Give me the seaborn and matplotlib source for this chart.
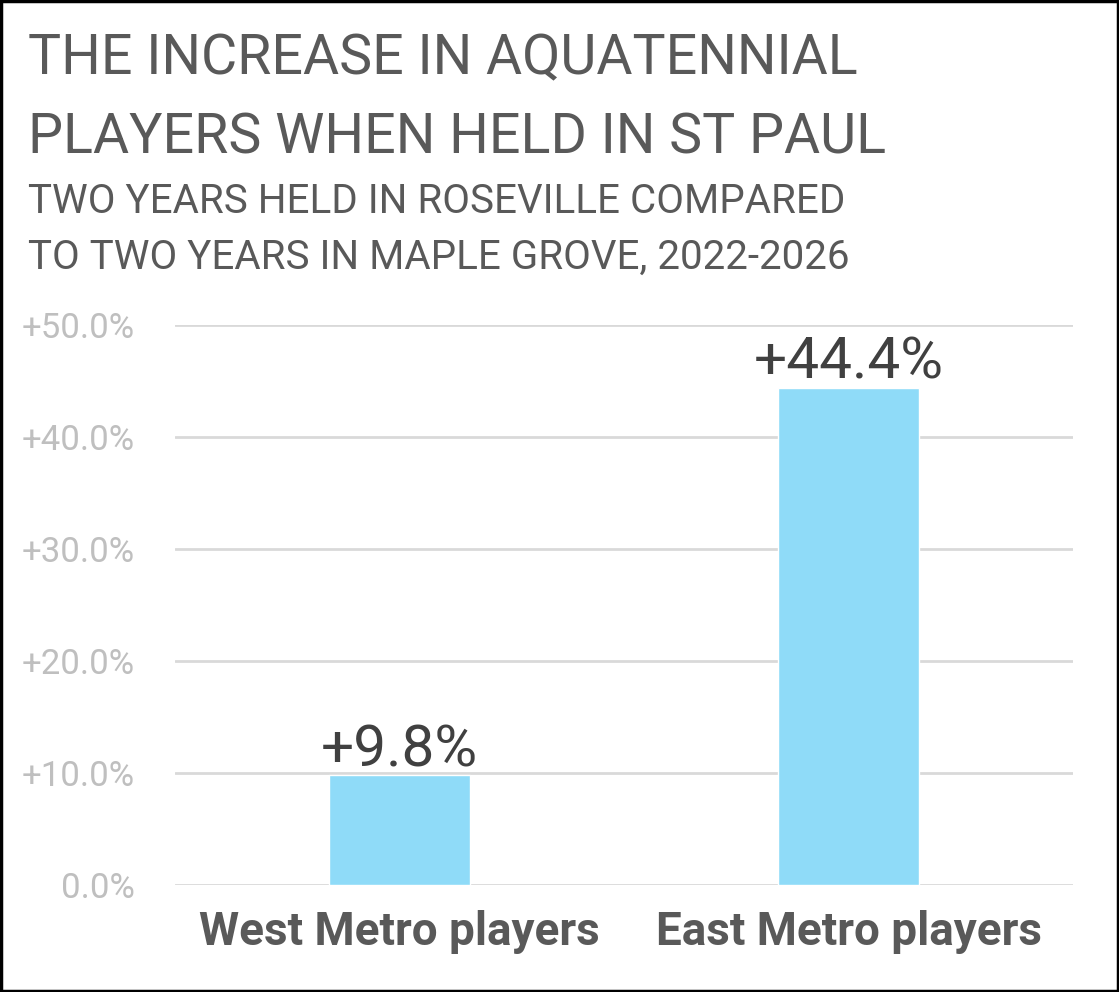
import matplotlib
matplotlib.use("Agg")
import matplotlib.pyplot as plt
import seaborn as sns
import pandas as pd
from matplotlib.ticker import FuncFormatter

categories = ["West Metro players", "East Metro players"]
values = [9.8, 44.4]
yticks = [0, 10, 20, 30, 40, 50]

title_lines = ["THE INCREASE IN AQUATENNIAL", "PLAYERS WHEN HELD IN ST PAUL"]
subtitle_lines = ["TWO YEARS HELD IN ROSEVILLE COMPARED", "TO TWO YEARS IN MAPLE GROVE, 2022-2026"]

df = pd.DataFrame({"cat": categories, "val": values})

sns.set_theme(style="white")
plt.rcParams['font.family'] = ['Roboto', 'DejaVu Sans']

W, H = 1119, 992
fig = plt.figure(figsize=(W / 100, H / 100), dpi=100)
ax = fig.add_axes([175 / W, 1 - 885 / H, 898 / W, 560 / H])

sns.barplot(data=df, x="cat", y="val", color="#8FDBF8", width=0.312, ax=ax,
            saturation=1, zorder=3)
ax.set_ylim(0, 50)
ax.set_xlim(-0.5, 1.5)
ax.set_yticks(yticks)
ax.yaxis.set_major_formatter(FuncFormatter(lambda v, p: "0.0%" if v == 0 else f"+{v:.1f}%"))
ax.grid(axis="y", color="#D9D9D9", linewidth=2, zorder=0)
ax.grid(axis="x", visible=False)
for s in ax.spines.values():
    s.set_visible(False)
ax.set_xlabel("")
ax.set_ylabel("")
ax.tick_params(axis="y", length=0, pad=29, labelsize=25, labelcolor="#BFBFBF")
ax.tick_params(axis="x", length=0, pad=18, labelsize=33, labelcolor="#595959")
for t in ax.get_xticklabels():
    t.set_fontweight("bold")

ax.bar_label(ax.containers[0], labels=[f"+{v:.1f}%" for v in values],
             fontsize=42, color="#404040", padding=-2)

fig.text(28 / W, 1 - 74 / H, title_lines[0], fontsize=40, color="#595959", va="baseline")
fig.text(28 / W, 1 - 153 / H, title_lines[1], fontsize=40, color="#595959", va="baseline")
fig.text(28 / W, 1 - 213 / H, subtitle_lines[0], fontsize=29, color="#595959", va="baseline")
fig.text(28 / W, 1 - 269 / H, subtitle_lines[1], fontsize=29, color="#595959", va="baseline")

border = plt.Rectangle((0.001, 0.001), 0.998, 0.998, transform=fig.transFigure,
                       fill=False, edgecolor="black", linewidth=2.5)
fig.patches.append(border)

fig.savefig("out.png", dpi=100)
